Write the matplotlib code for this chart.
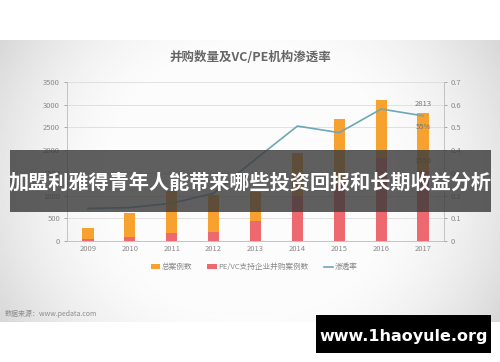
import matplotlib
matplotlib.use("Agg")
import matplotlib.pyplot as plt
import matplotlib.patches as mpatches
import numpy as np

plt.rcParams["font.family"] = ["Noto Sans CJK SC", "DejaVu Sans"]

years = ["2009", "2010", "2011", "2012", "2013", "2014", "2015", "2016", "2017"]
total_cases = [290, 620, 1090, 1010, 1080, 1930, 2690, 3100, 2813]
pevc_cases = [40, 95, 185, 205, 440, 1000, 1280, 1820, 1550]
penetration = [0.143, 0.147, 0.166, 0.21, 0.36, 0.506, 0.477, 0.581, 0.551]

orange = "#F7A12F"
red = "#EE6870"
teal = "#6FA6B8"
gray_txt = "#8A8A8A"

fig = plt.figure(figsize=(5, 3.62), dpi=100)
fig.patch.set_facecolor("white")

# background with vignette (chart screenshot area)
ax_bg = fig.add_axes([0, 0, 1, 1], zorder=-5)
ax_bg.set_xlim(0, 500)
ax_bg.set_ylim(362, 0)
ax_bg.axis("off")
gx, gy = np.meshgrid(np.linspace(-1, 1, 250), np.linspace(-1, 1, 140))
shade = 0.985 - 0.14 * np.clip((gx ** 2 * 1.0 + gy ** 2 * 0.35) - 0.35, 0, None) ** 1.2
ax_bg.imshow(shade, cmap="gray", vmin=0, vmax=1, extent=[0, 500, 322, 40],
             aspect="auto", interpolation="bilinear")

ax = fig.add_axes([0.134, 0.3343, 0.754, 0.4392])
ax.patch.set_alpha(0)
x = np.arange(len(years))
ax.bar(x, total_cases, width=0.27, color=orange, zorder=2, label="总案例数")
ax.bar(x, pevc_cases, width=0.27, color=red, zorder=3, label="PE/VC支持企业并购案例数")
ax.set_xlim(-0.5, len(years) - 0.5)
ax.set_ylim(0, 3500)
ax.set_yticks(range(0, 3501, 500))
ax.set_xticks(x)
ax.set_xticklabels(years)
ax.grid(axis="y", color="#DCDCDC", linewidth=0.6, zorder=0)
ax.tick_params(labelsize=5.5, colors=gray_txt, length=2, width=0.5, pad=3)
ax.tick_params(axis="x", length=0)
for s in ["top", "right"]:
    ax.spines[s].set_visible(False)
ax.spines["left"].set_color("#BBBBBB")
ax.spines["bottom"].set_color("#BBBBBB")
ax.spines["left"].set_linewidth(0.6)
ax.spines["bottom"].set_linewidth(0.6)

ax2 = ax.twinx()
ax2.plot(x, penetration, color=teal, linewidth=1.2, zorder=4, label="渗透率")
ax2.set_ylim(0, 0.7)
ax2.set_yticks(np.arange(0, 0.71, 0.1))
ax2.set_yticklabels(["0", "0.1", "0.2", "0.3", "0.4", "0.5", "0.6", "0.7"])
ax2.tick_params(labelsize=5.5, colors=gray_txt, length=2, width=0.5, pad=3)
for s in ["top", "left", "bottom"]:
    ax2.spines[s].set_visible(False)
ax2.spines["right"].set_color("#BBBBBB")
ax2.spines["right"].set_linewidth(0.6)

# data labels for 2017
ax.text(x[-1], total_cases[-1] + 120, str(total_cases[-1]), ha="center", va="bottom",
        fontsize=5.5, color="#777777", zorder=6)
ax.text(x[-1], pevc_cases[-1] + 120, str(pevc_cases[-1]), ha="center", va="bottom",
        fontsize=5.5, color="#777777", zorder=6)
ax2.text(x[-1], penetration[-1] - 0.05, "%d%%" % round(penetration[-1] * 100),
         ha="center", va="center", fontsize=5.5, color="#777777", zorder=6)

fig.text(0.5, 0.84, "并购数量及VC/PE机构渗透率", ha="center", va="center",
         fontsize=9, fontweight="bold", color="#666666")

h1, l1 = ax.get_legend_handles_labels()
h2, l2 = ax2.get_legend_handles_labels()
fig.legend(h1 + h2, l1 + l2, loc="center", bbox_to_anchor=(0.508, 0.262), ncol=3,
           frameon=False, fontsize=5.5, handlelength=1.2, handleheight=0.6,
           handletextpad=0.2, columnspacing=2.0, labelcolor="#888888")

fig.text(0.01, 0.132, "数据来源：www.pedata.com", ha="left", va="center",
         fontsize=5, color="#8C8C8C")

# overlay banner and watermark
ov = fig.add_axes([0, 0, 1, 1], zorder=10)
ov.set_xlim(0, 500)
ov.set_ylim(362, 0)
ov.axis("off")
ov.patch.set_alpha(0)
ov.add_patch(mpatches.Rectangle((10, 150), 481, 62, color="#3C3C3C", alpha=0.82, linewidth=0))
ov.text(250, 182, "加盟利雅得青年人能带来哪些投资回报和长期收益分析", ha="center", va="center",
        fontsize=14.5, fontweight="bold", color="white")
ov.add_patch(mpatches.Rectangle((316, 315), 175, 38, color="black", linewidth=0))
ov.text(403.5, 336, "www.1haoyule.org", ha="center", va="center",
        fontsize=11.5, fontweight="bold", color="white", family=["DejaVu Sans"])

fig.savefig("out.png", dpi=100)
